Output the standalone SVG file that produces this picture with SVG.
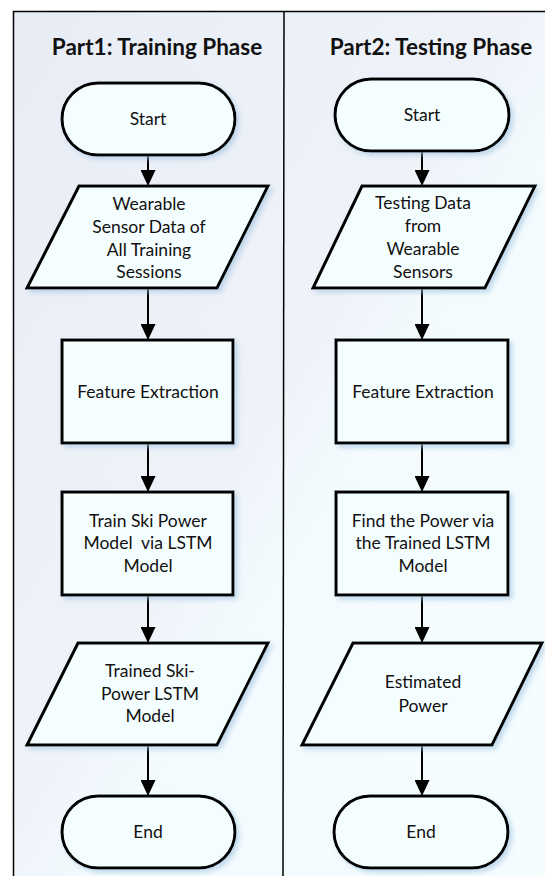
<svg xmlns="http://www.w3.org/2000/svg" width="545" height="876" viewBox="0 0 545 876">
<defs>
<linearGradient id="bg" x1="0" y1="0" x2="1" y2="1">
<stop offset="0" stop-color="#e8ecf5"/>
<stop offset="0.45" stop-color="#eff3f9"/>
<stop offset="0.55" stop-color="#f3fbfe"/>
<stop offset="1" stop-color="#f5fdff"/>
</linearGradient>
<filter id="sh" x="-10%" y="-10%" width="130%" height="130%">
<feDropShadow dx="3" dy="3" stdDeviation="2.5" flood-color="#9fc3df" flood-opacity="0.6"/>
</filter>
<marker id="ah" markerWidth="16" markerHeight="15" refX="16" refY="7.5" orient="auto" markerUnits="userSpaceOnUse">
<path d="M0,0 L16,7.5 L0,15 Z" fill="#000"/>
</marker>
<style>
.node{fill:#f5feff;stroke:#000;stroke-width:3;filter:url(#sh)}
.t{font-family:Lato,"Liberation Sans",sans-serif;font-size:17.5px;fill:#111;text-anchor:middle}
.title{font-family:Lato,"Liberation Sans",sans-serif;font-size:22.5px;font-weight:bold;fill:#111;text-anchor:middle}
.c{stroke:#000;stroke-width:2;fill:none;marker-end:url(#ah)}
</style>
</defs>
<rect x="0" y="0" width="545" height="876" fill="#fff"/>
<g id="frame">
<rect x="13.5" y="11.5" width="560" height="900" fill="url(#bg)" stroke="#000" stroke-width="1.5"/>
<line x1="284" y1="11" x2="283" y2="876" stroke="#000" stroke-width="1.5"/>
</g>
<text class="title" x="157" y="55">Part1: Training Phase</text>
<text class="title" x="431" y="55">Part2: Testing Phase</text>

<g id="connectors">
<line class="c" x1="148" y1="155" x2="148" y2="186"/>
<line class="c" x1="148" y1="288" x2="148" y2="340"/>
<line class="c" x1="148" y1="443" x2="148" y2="492"/>
<line class="c" x1="148" y1="595" x2="148" y2="643"/>
<line class="c" x1="148" y1="745" x2="148" y2="796"/>
<line class="c" x1="422" y1="151" x2="422" y2="186"/>
<line class="c" x1="422" y1="288" x2="422" y2="340"/>
<line class="c" x1="422" y1="443" x2="422" y2="492"/>
<line class="c" x1="422" y1="595" x2="422" y2="643"/>
<line class="c" x1="422" y1="745" x2="422" y2="796"/>
</g>

<g id="start1">
<rect class="node" x="62" y="83" width="173" height="72" rx="36"/>
<text class="t" x="148" y="125">Start</text>
</g>
<g id="data1">
<polygon class="node" points="79,186 268,186 217,288 27,288"/>
<text class="t" x="149" y="210">Wearable</text>
<text class="t" x="149" y="233">Sensor Data of</text>
<text class="t" x="149" y="256">All Training</text>
<text class="t" x="149" y="278">Sessions</text>
</g>
<g id="feat1">
<rect class="node" x="62" y="340" width="171" height="103"/>
<text class="t" x="148" y="398">Feature Extraction</text>
</g>
<g id="train1">
<rect class="node" x="62" y="492" width="171" height="103"/>
<text class="t" x="148" y="527">Train Ski Power</text>
<text class="t" x="148" y="549" xml:space="preserve">Model  via LSTM</text>
<text class="t" x="148" y="572">Model</text>
</g>
<g id="model1">
<polygon class="node" points="78,643 268,643 217,745 27,745"/>
<text class="t" x="150" y="677">Trained Ski-</text>
<text class="t" x="150" y="700">Power LSTM</text>
<text class="t" x="150" y="722">Model</text>
</g>
<g id="end1">
<rect class="node" x="62" y="796" width="173" height="72" rx="36"/>
<text class="t" x="148" y="838">End</text>
</g>

<g id="start2">
<rect class="node" x="335" y="79" width="174" height="72" rx="36"/>
<text class="t" x="422" y="121">Start</text>
</g>
<g id="data2">
<polygon class="node" points="362,186 535,186 485,288 313,288"/>
<text class="t" x="423" y="209">Testing Data</text>
<text class="t" x="423" y="232">from</text>
<text class="t" x="423" y="255">Wearable</text>
<text class="t" x="423" y="278">Sensors</text>
</g>
<g id="feat2">
<rect class="node" x="336" y="340" width="172" height="103"/>
<text class="t" x="423" y="398">Feature Extraction</text>
</g>
<g id="find2">
<rect class="node" x="336" y="492" width="172" height="103"/>
<text class="t" x="423" y="527">Find the Power via</text>
<text class="t" x="423" y="549">the Trained LSTM</text>
<text class="t" x="423" y="572">Model</text>
</g>
<g id="est2">
<polygon class="node" points="353,643 542,643 492,745 302,745"/>
<text class="t" x="423" y="688">Estimated</text>
<text class="t" x="423" y="712">Power</text>
</g>
<g id="end2">
<rect class="node" x="334" y="796" width="174" height="72" rx="36"/>
<text class="t" x="421" y="838">End</text>
</g>
</svg>
